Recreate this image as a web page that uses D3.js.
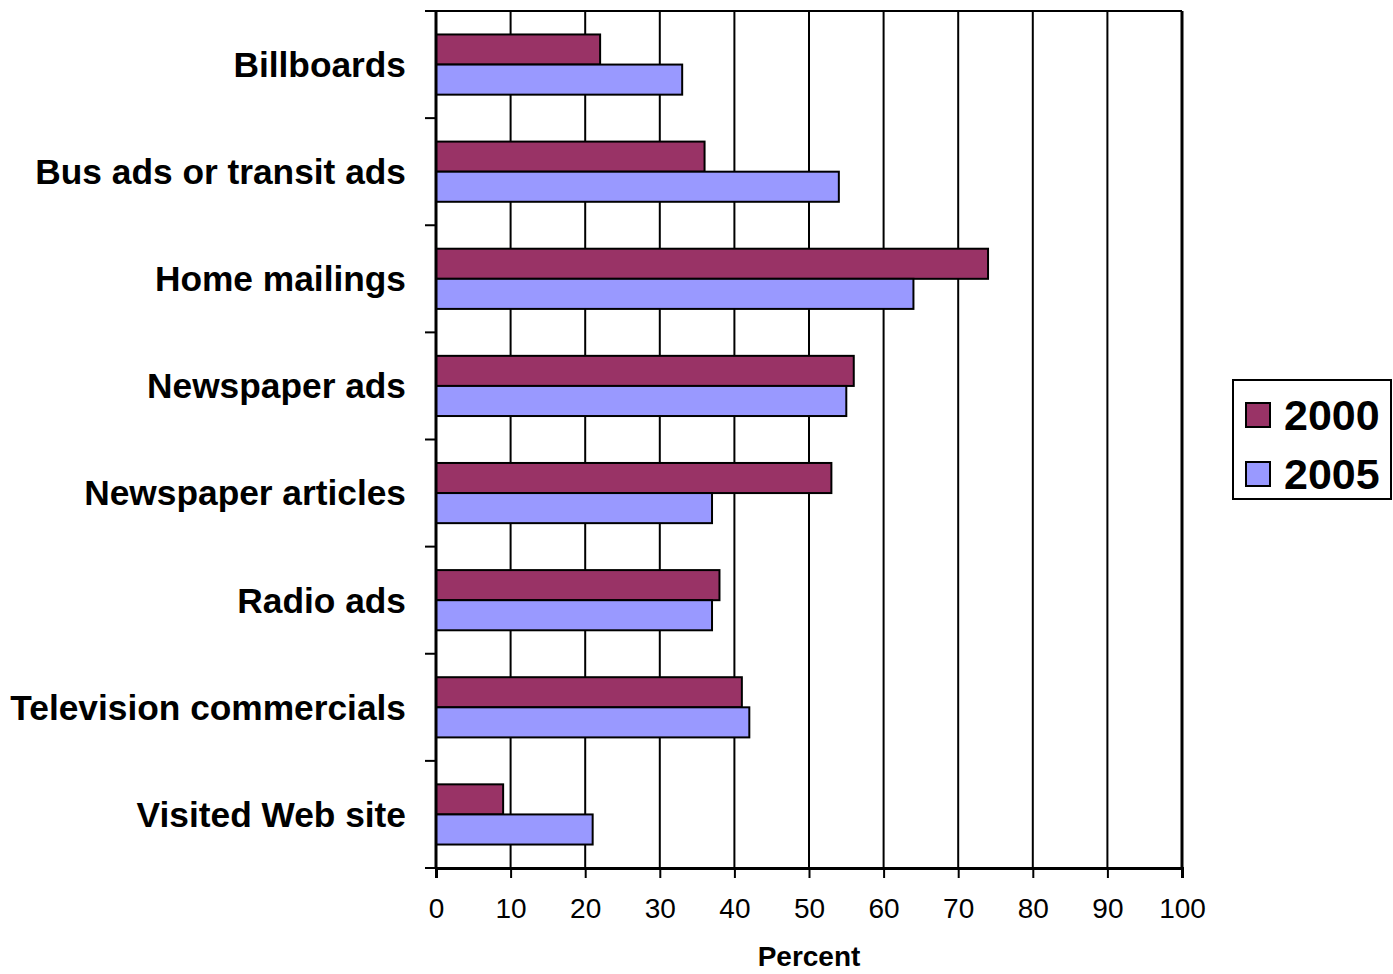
<!DOCTYPE html>
<html>
<head>
<meta charset="utf-8">
<script src="https://cdn.jsdelivr.net/npm/d3@7"></script>
<style>
  body { margin: 0; background: #fff; }
  text { font-family: "Liberation Sans", Arial, sans-serif; }
</style>
</head>
<body>
<script>
var width = 1393, height = 974;
var margin = {top: 11, right: 211, bottom: 106, left: 436};

var categories = ["Billboards", "Bus ads or transit ads", "Home mailings", "Newspaper ads",
  "Newspaper articles", "Radio ads", "Television commercials", "Visited Web site"];
var series = ["2000", "2005"];
var values2000 = [22, 36, 74, 56, 53, 38, 41, 9];
var values2005 = [33, 54, 64, 55, 37, 37, 42, 21];
var colors = ["#993366", "#9999ff"];
var xTicks = [0, 10, 20, 30, 40, 50, 60, 70, 80, 90, 100];

var svg = d3.select("body").append("svg")
    .attr("width", width)
    .attr("height", height);

var x = d3.scaleLinear().domain([0, 100])
    .range([margin.left, width - margin.right]);
var y = d3.scaleBand().domain(categories)
    .range([margin.top, height - margin.bottom]);
var ySub = d3.scaleBand().domain(series)
    .range([0, y.bandwidth()])
    .paddingInner(0).paddingOuter(0.78);

// gridlines
svg.append("g").selectAll("line")
    .data(xTicks.slice(1))
    .enter().append("line")
    .attr("x1", (d) => x(d)).attr("x2", (d) => x(d))
    .attr("y1", margin.top).attr("y2", height - margin.bottom)
    .attr("stroke", "#000").attr("stroke-width", 2);

// top border
svg.append("line")
    .attr("x1", x(0)).attr("x2", x(100))
    .attr("y1", margin.top).attr("y2", margin.top)
    .attr("stroke", "#000").attr("stroke-width", 2);
svg.append("line")
    .attr("x1", x(100)).attr("x2", x(100))
    .attr("y1", margin.top).attr("y2", height - margin.bottom)
    .attr("stroke", "#000").attr("stroke-width", 3);

// bars
var rows = categories.map((c, i) => ({cat: c, vals: [values2000[i], values2005[i]]}));
var groups = svg.append("g").selectAll("g")
    .data(rows)
    .enter().append("g")
    .attr("transform", (d) => "translate(0," + y(d.cat) + ")");
groups.selectAll("rect")
    .data((d) => d.vals.map((v, j) => ({s: series[j], v: v, j: j})))
    .enter().append("rect")
    .attr("x", x(0))
    .attr("y", (d) => ySub(d.s))
    .attr("width", (d) => x(d.v) - x(0))
    .attr("height", ySub.bandwidth())
    .attr("fill", (d) => colors[d.j])
    .attr("stroke", "#000")
    .attr("stroke-width", 2);

// y axis line + ticks at band edges
var yEdges = categories.map((c) => y(c)).concat([height - margin.bottom]);
svg.append("line")
    .attr("x1", x(0)).attr("x2", x(0))
    .attr("y1", margin.top).attr("y2", height - margin.bottom)
    .attr("stroke", "#000").attr("stroke-width", 3);
svg.append("g").selectAll("line")
    .data(yEdges)
    .enter().append("line")
    .attr("x1", x(0) - 11).attr("x2", x(0))
    .attr("y1", (d) => d).attr("y2", (d) => d)
    .attr("stroke", "#000").attr("stroke-width", 2);

// category labels
svg.append("g").selectAll("text")
    .data(categories)
    .enter().append("text")
    .attr("x", 406)
    .attr("y", (d) => y(d) + y.bandwidth() / 2)
    .attr("dy", "0.35em")
    .attr("text-anchor", "end")
    .attr("font-size", 35.3)
    .attr("font-weight", "bold")
    .text((d) => d);

// x axis
var xAxis = d3.axisBottom(x).tickValues(xTicks).tickSize(10).tickPadding(20);
var gx = svg.append("g")
    .attr("transform", "translate(0," + (height - margin.bottom) + ")")
    .call(xAxis);
gx.select(".domain").attr("stroke", "#000").attr("stroke-width", 3);
gx.selectAll(".tick line").attr("stroke", "#000").attr("stroke-width", 2);
gx.selectAll(".tick text")
    .attr("font-size", 28)
    .attr("font-family", "Liberation Sans, Arial, sans-serif")
    .attr("fill", "#000");

svg.append("text")
    .attr("x", (x(0) + x(100)) / 2)
    .attr("y", 966)
    .attr("text-anchor", "middle")
    .attr("font-size", 28)
    .attr("font-weight", "bold")
    .text("Percent");

// legend
var legend = svg.append("g");
legend.append("rect")
    .attr("x", 1233).attr("y", 380)
    .attr("width", 158).attr("height", 119)
    .attr("fill", "#fff").attr("stroke", "#000").attr("stroke-width", 2);
var items = legend.selectAll("g.item")
    .data(series)
    .enter().append("g")
    .attr("class", "item")
    .attr("transform", (d, i) => "translate(1246," + (403 + i * 59) + ")");
items.append("rect")
    .attr("width", 24).attr("height", 24)
    .attr("fill", (d, i) => colors[i])
    .attr("stroke", "#000").attr("stroke-width", 2);
items.append("text")
    .attr("x", 38).attr("y", 12)
    .attr("dy", "0.36em")
    .attr("font-size", 43)
    .attr("font-weight", "bold")
    .text((d) => d);
</script>
</body>
</html>
